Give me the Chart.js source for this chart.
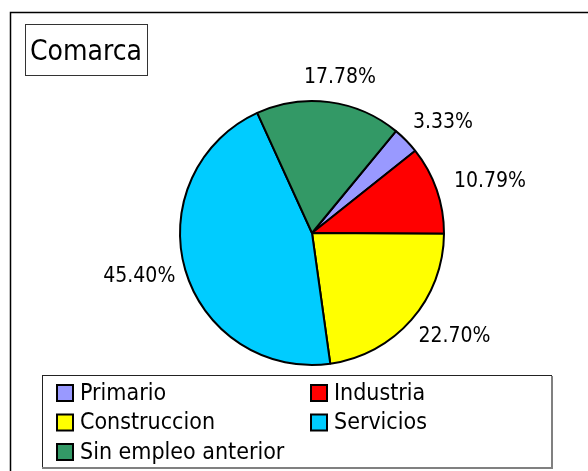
<!DOCTYPE html>
<html>
<head>
<meta charset="utf-8">
<script src="https://cdn.jsdelivr.net/npm/chart.js@4.4.1/dist/chart.umd.min.js"></script>
<style>
  html, body { margin: 0; padding: 0; background: #fff; }
  #wrap { width: 588px; height: 471px; position: relative; }
</style>
</head>
<body>
<div id="wrap"><canvas id="pie" width="588" height="471"></canvas></div>
<script>
"use strict";

// data
var categories = ["Primario", "Industria", "Construccion", "Servicios", "Sin empleo anterior"];
var shares = [3.33, 10.79, 22.70, 45.40, 17.78];
var sliceColors = ["#9999FF", "#FF0000", "#FFFF00", "#00CCFF", "#339966"];
var chartTitle = "Comarca";

var FONT = "'DejaVu Sans Condensed', 'DejaVu Sans', sans-serif";

// outer frame + boxed title, painted under the pie
var frame = {
    id: "frame",
    beforeDraw: function (chart) {
        var ctx = chart.ctx;
        ctx.save();
        ctx.fillStyle = "#fff";
        ctx.fillRect(0, 0, chart.width, chart.height);

        ctx.strokeStyle = "#000";
        ctx.lineWidth = 1.5;
        ctx.beginPath();
        ctx.moveTo(10.5, chart.height + 2);
        ctx.lineTo(10.5, 12.5);
        ctx.lineTo(chart.width + 2, 12.5);
        ctx.stroke();

        ctx.strokeStyle = "#333";
        ctx.lineWidth = 1;
        ctx.strokeRect(25.5, 24.5, 122, 51);
        ctx.fillStyle = "#000";
        ctx.font = "28px " + FONT;
        ctx.textAlign = "left";
        ctx.textBaseline = "alphabetic";
        ctx.fillText(chartTitle, 30, 60);
        ctx.restore();
    }
};

// percentage labels just outside each slice
var pctLabels = {
    id: "pctLabels",
    afterDatasetsDraw: function (chart) {
        var ctx = chart.ctx;
        var meta = chart.getDatasetMeta(0);
        ctx.save();
        ctx.font = "21px " + FONT;
        ctx.fillStyle = "#000";
        ctx.textAlign = "center";
        ctx.textBaseline = "middle";
        meta.data.forEach(function (arc, i) {
            var p = arc.getProps(["x", "y", "startAngle", "endAngle", "outerRadius"], true);
            var mid = (p.startAngle + p.endAngle) / 2;
            var text = shares[i].toFixed(2) + "%";
            var w = ctx.measureText(text).width;
            var dx = Math.cos(mid), dy = Math.sin(mid);
            var r = p.outerRadius + 16;
            ctx.fillText(text, p.x + dx * (r + w / 2) + 4, p.y + dy * (r + 9));
        });
        ctx.restore();
    }
};

// two column legend in a shadowed box
var boxLegend = {
    id: "boxLegend",
    afterDraw: function (chart) {
        var ctx = chart.ctx;
        var left = 42, top = 375, width = 509, height = 92;
        ctx.save();
        ctx.strokeStyle = "#222";
        ctx.lineWidth = 1;
        ctx.strokeRect(left + 0.5, top + 0.5, width, height);
        ctx.strokeStyle = "#808080";
        ctx.lineWidth = 2;
        ctx.beginPath();
        ctx.moveTo(left + width + 1, top + 1);
        ctx.lineTo(left + width + 1, top + height + 1);
        ctx.lineTo(left, top + height + 1);
        ctx.stroke();

        ctx.font = "23px " + FONT;
        ctx.textAlign = "left";
        ctx.textBaseline = "middle";
        var colX = [57, 311];
        var rowY = [393, 422.5, 452];
        categories.forEach(function (name, i) {
            var x = colX[i % 2], y = rowY[Math.floor(i / 2)];
            ctx.fillStyle = sliceColors[i];
            ctx.fillRect(x, y - 8, 16, 16);
            ctx.strokeStyle = "#000";
            ctx.lineWidth = 2;
            ctx.strokeRect(x, y - 8, 16, 16);
            ctx.fillStyle = "#000";
            ctx.fillText(name, x + 23, y + 1);
        });
        ctx.restore();
    }
};

new Chart(document.getElementById("pie"), {
    type: "pie",
    data: {
        labels: categories,
        datasets: [{
            data: shares,
            backgroundColor: sliceColors,
            borderColor: "#000",
            borderWidth: 2,
            radius: 132
        }]
    },
    options: {
        responsive: false,
        animation: false,
        devicePixelRatio: 1,
        rotation: 39.5,
        layout: { padding: { left: 100, right: 64, top: 40, bottom: 45 } },
        plugins: {
            legend: { display: false },
            tooltip: { enabled: false }
        }
    },
    plugins: [frame, pctLabels, boxLegend]
});
</script>
</body>
</html>
